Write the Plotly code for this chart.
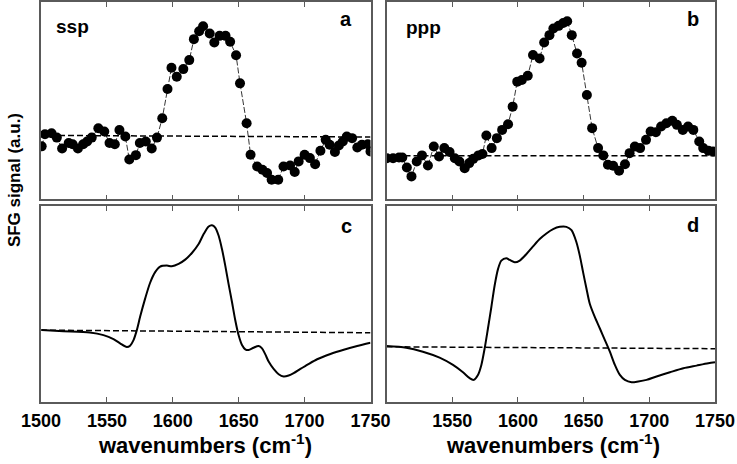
import plotly.graph_objects as go

# ---------------- data ----------------
# panel a: ssp experimental
ssp_wn = [1500.5, 1503, 1508, 1512, 1516, 1521, 1524, 1528, 1532, 1535, 1538.5, 1543.5, 1548,
          1552, 1556, 1559.5, 1564, 1567, 1572, 1575, 1579.5, 1584, 1588, 1592, 1596, 1599,
          1603, 1608, 1612.5, 1616, 1620, 1623, 1628, 1631.5, 1635.5, 1640, 1643.5, 1648,
          1651, 1656, 1659, 1664, 1668, 1671.5, 1675, 1680, 1684, 1689, 1692.5, 1695.5, 1700,
          1704, 1708, 1712, 1716, 1719, 1723, 1726, 1729, 1732, 1736, 1740, 1743.5, 1748, 1750]
ssp_sig = [-0.09, 0.02, 0.03, -0.01, -0.11, -0.06, -0.07, -0.11, -0.07, -0.045, -0.01, 0.076, 0.045,
           -0.06, -0.07, 0.06, 0.0, -0.21, -0.17, -0.06, -0.045, -0.11, -0.01, 0.167, 0.433, 0.627,
           0.545, 0.615, 0.697, 0.888, 0.96, 1.006, 0.94, 0.858, 0.918, 0.918, 0.864, 0.742,
           0.485, 0.121, -0.167, -0.273, -0.303, -0.333, -0.394, -0.394, -0.273, -0.264, -0.324, -0.227, -0.167,
           -0.197, -0.252, -0.13, -0.03, -0.076, -0.142, -0.082, -0.045, 0.0, -0.015, -0.1, -0.076, -0.07, -0.136]

# panel b: ppp experimental
ppp_wn = [1500.3, 1505, 1509.5, 1512, 1515.5, 1519, 1523, 1527, 1531.5, 1536, 1540, 1544, 1548,
          1552, 1555.5, 1559.5, 1563, 1566, 1570, 1573, 1576, 1580, 1584, 1588, 1592.5, 1596,
          1599.5, 1603, 1607.5, 1611.5, 1616.5, 1620, 1624, 1627, 1631, 1634.5, 1637.5, 1641,
          1645, 1648.5, 1652.5, 1656.5, 1661, 1665, 1668.5, 1672.5, 1677, 1681.5, 1685, 1689,
          1693, 1697.5, 1701, 1705, 1709, 1713, 1717.5, 1721, 1725.5, 1729.5, 1733.5, 1738,
          1741, 1745, 1748.5]
ppp_sig = [-0.018, -0.018, -0.013, -0.013, -0.088, -0.155, -0.043, 0.003, -0.073, 0.07, -0.005, 0.058, 0.028,
           -0.018, -0.043, -0.093, -0.055, -0.023, 0.003, 0.013, 0.153, 0.058, 0.133, 0.195, 0.238, 0.37,
           0.558, 0.57, 0.603, 0.758, 0.733, 0.853, 0.908, 0.958, 0.978, 1.0, 1.013, 0.908,
           0.77, 0.7, 0.458, 0.208, 0.058, 0.003, -0.068, -0.075, -0.113, -0.063, 0.02, 0.07,
           0.058, 0.12, 0.183, 0.178, 0.22, 0.245, 0.263, 0.233, 0.195, 0.22, 0.195, 0.108,
           0.058, 0.038, 0.033]

# panel c: ssp simulated
ssp_sim_wn = [1500.5, 1517, 1537, 1547.4, 1555, 1560, 1565.1, 1567.6, 1570.2, 1572.7, 1575.2, 1579,
              1582.8, 1586.6, 1590.4, 1595.5, 1599.3, 1604.4, 1609.4, 1614.5, 1619.6, 1623.4, 1627.2,
              1629.7, 1632.2, 1634.8, 1637.3, 1639.8, 1642.3, 1644.9, 1647.4, 1649.9, 1652.5, 1655,
              1657.5, 1661.3, 1665.1, 1667.7, 1670.2, 1672.7, 1676.5, 1680.3, 1684.1, 1687.9, 1691.7,
              1696.8, 1701.9, 1709.5, 1719.6, 1729.7, 1739.9, 1750]
ssp_sim = [0.016, 0.006, -0.006, -0.031, -0.069, -0.109, -0.144, -0.131, -0.078, 0.016, 0.141, 0.313,
           0.463, 0.563, 0.616, 0.625, 0.619, 0.641, 0.681, 0.744, 0.828, 0.922, 0.994,
           1.006, 0.984, 0.906, 0.781, 0.625, 0.453, 0.281, 0.109, -0.031, -0.125, -0.166,
           -0.172, -0.15, -0.134, -0.156, -0.213, -0.281, -0.35, -0.4, -0.422, -0.413, -0.391,
           -0.35, -0.313, -0.259, -0.209, -0.169, -0.134, -0.103]

# panel d: ppp simulated
ppp_sim_wn = [1500, 1515, 1527.7, 1540.4, 1550.6, 1558.2, 1563.3, 1566.3, 1569.6, 1572.2, 1574.7, 1577.2,
              1579.8, 1582.3, 1584.9, 1587.4, 1591.2, 1593.8, 1597.6, 1601.4, 1606.5, 1611.5, 1616.6,
              1621.7, 1626.8, 1631.9, 1636.9, 1640.8, 1644.6, 1647.1, 1649.6, 1652.2, 1654.7, 1658.5,
              1662.4, 1666.2, 1670, 1673.8, 1677.6, 1681.4, 1686.5, 1691.6, 1697.9, 1705.5, 1715.7,
              1725.9, 1736, 1744.9, 1750]
ppp_sim = [0.014, 0.0, -0.033, -0.082, -0.142, -0.203, -0.252, -0.266, -0.225, -0.142, -0.005, 0.159,
           0.337, 0.515, 0.652, 0.721, 0.74, 0.726, 0.707, 0.721, 0.775, 0.838, 0.899,
           0.945, 0.981, 1.0, 1.0, 0.973, 0.871, 0.762, 0.625, 0.488, 0.364, 0.255,
           0.159, 0.063, -0.033, -0.142, -0.225, -0.266, -0.285, -0.279, -0.266, -0.238, -0.203,
           -0.17, -0.148, -0.129, -0.121]

# baselines (start, end values)
base_wn = [1500, 1750]
base_a = [0.01, -0.005]
base_b = [0.0, 0.0]
base_c = [0.016, -0.009]
base_d = [0.008, -0.008]

x_ticks = [1500, 1550, 1600, 1650, 1700, 1750]
x_ticks_right = [1550, 1600, 1650, 1700, 1750]

# ---------------- figure ----------------
W, H = 737, 464
L, R, T, B = 41, 22, 0, 62
pw, ph = W - L - R, H - T - B

def px(xp):
    return (xp - L) / pw

def py(yp):
    return (H - B - yp) / ph

fig = go.Figure()
black = "#000000"
frame = "#5a5a5a"

def exp_trace(x, y, ax):
    fig.add_trace(go.Scatter(x=x, y=y, mode="lines+markers", xaxis="x" + ax, yaxis="y" + ax,
                             line=dict(color=black, width=0.8, dash="6px,2px"),
                             marker=dict(color=black, size=10), showlegend=False, hoverinfo="skip"))

def sim_trace(x, y, ax):
    fig.add_trace(go.Scatter(x=x, y=y, mode="lines", xaxis="x" + ax, yaxis="y" + ax,
                             line=dict(color=black, width=2, shape="spline", smoothing=0.8),
                             showlegend=False, hoverinfo="skip"))

def base_trace(y, ax):
    fig.add_trace(go.Scatter(x=base_wn, y=y, mode="lines", xaxis="x" + ax, yaxis="y" + ax,
                             line=dict(color=black, width=1.5, dash="6px,3px"),
                             showlegend=False, hoverinfo="skip"))

base_trace(base_a, "")
exp_trace(ssp_wn, ssp_sig, "")
base_trace(base_b, "2")
exp_trace(ppp_wn, ppp_sig, "2")
base_trace(base_c, "3")
sim_trace(ssp_sim_wn, ssp_sim, "3")
base_trace(base_d, "4")
sim_trace(ppp_sim_wn, ppp_sim, "4")

xl = [0, px(370.5)]
xr = [px(386.5), 1]
yt = [py(198.3), 1]
yb = [0, py(205)]

tickfont = dict(family="Liberation Sans, Arial", size=18, color=black, weight="bold")

def xax(domain, anchor, labels, vals):
    return dict(domain=domain, anchor=anchor, range=[1500, 1750], showline=True, mirror="allticks",
                linecolor=frame, linewidth=1.5, ticks="inside", ticklen=5, tickcolor=frame,
                tickwidth=1.2, tickvals=vals, showticklabels=labels, tickfont=tickfont,
                ticklabelstandoff=2,
                showgrid=False, zeroline=False, fixedrange=True)

def yax(domain, anchor, rng):
    return dict(domain=domain, anchor=anchor, range=rng, showline=True, mirror=True,
                linecolor=frame, linewidth=1.5, ticks="", showticklabels=False,
                showgrid=False, zeroline=False, fixedrange=True)

fig.update_layout(
    width=W, height=H,
    margin=dict(l=L, r=R, t=T, b=B),
    paper_bgcolor="white", plot_bgcolor="white",
    xaxis=xax(xl, "y", False, x_ticks),
    yaxis=yax(yt, "x", [-0.573, 1.227]),
    xaxis2=xax(xr, "y2", False, x_ticks),
    yaxis2=yax(yt, "x2", [-0.3275, 1.1575]),
    xaxis3=xax(xl, "y3", True, x_ticks),
    yaxis3=yax(yb, "x3", [-0.6625, 1.1875]),
    xaxis4=xax(xr, "y4", True, x_ticks_right),
    yaxis4=yax(yb, "x4", [-0.449, 1.1726]),
)

bold = dict(family="Liberation Sans, Arial", color=black, weight="bold")

def ann(text, xp, yp, size, angle=0):
    fig.add_annotation(text=text, x=px(xp), y=py(yp), xref="paper", yref="paper",
                       showarrow=False, textangle=angle, xanchor="center", yanchor="middle",
                       font=dict(size=size, **bold))

ann("ssp", 72, 25, 19)
ann("ppp", 423, 26, 19)
ann("a", 346, 17, 20)
ann("b", 693, 17, 20)
ann("c", 346, 225, 20)
ann("d", 693, 224, 20)
ann("wavenumbers (cm<sup>-1</sup>)", 205, 444, 22)
ann("wavenumbers (cm<sup>-1</sup>)", 553, 444, 22)
ann("SFG signal (a.u.)", 14, 179, 17, angle=-90)

fig.write_html("out.html", config={"displayModeBar": False},
               post_script="document.body.style.margin='0';")
